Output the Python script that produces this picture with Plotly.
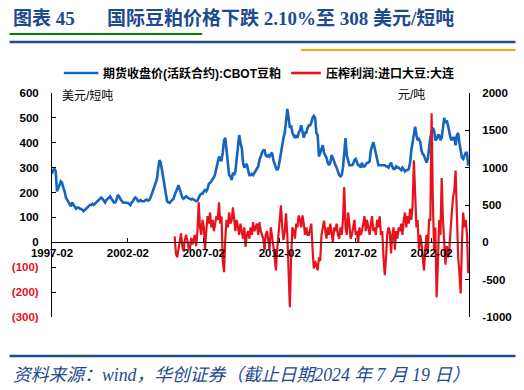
import pandas as pd
import plotly.graph_objects as go

# CBOT soybean meal, active contract close (USD/short ton), monthly 1997-02 .. 2024-07
blue_1997 = [275, 290, 295, 285, 205, 215, 230, 245, 240, 220, 205]
blue_years = [
    [180, 170, 165, 150, 145, 160, 150, 140, 135, 140, 140, 135],  # 1998
    [135, 130, 125, 130, 135, 140, 145, 150, 150, 155, 150, 155],  # 1999
    [160, 165, 170, 175, 180, 175, 165, 160, 170, 175, 180, 185],  # 2000
    [175, 165, 160, 160, 170, 190, 185, 175, 165, 160, 160, 160],  # 2001
    [160, 158, 155, 150, 160, 165, 175, 180, 175, 165, 165, 170],  # 2002
    [165, 165, 165, 170, 172, 168, 170, 180, 195, 210, 230, 240],  # 2003
    [255, 300, 330, 320, 290, 250, 215, 180, 165, 160, 158, 165],  # 2004
    [170, 175, 190, 200, 215, 230, 215, 195, 180, 175, 180, 185],  # 2005
    [180, 178, 175, 172, 175, 172, 170, 165, 168, 180, 190, 195],  # 2006
    [195, 205, 210, 205, 215, 235, 240, 245, 255, 260, 275, 300],  # 2007
    [320, 345, 330, 330, 360, 410, 420, 360, 320, 270, 265, 250],  # 2008
    [280, 270, 285, 330, 390, 431, 400, 380, 320, 300, 310, 315],  # 2009
    [290, 270, 270, 275, 270, 280, 290, 300, 305, 330, 350, 360],  # 2010
    [370, 370, 350, 345, 350, 345, 355, 360, 330, 310, 300, 290],  # 2011
    [300, 330, 360, 400, 420, 440, 500, 536, 500, 460, 470, 440],  # 2012
    [430, 420, 430, 420, 440, 450, 470, 450, 420, 440, 440, 460],  # 2013
    [470, 470, 480, 500, 508, 500, 440, 430, 345, 360, 380, 390],  # 2014
    [360, 350, 340, 320, 310, 320, 350, 340, 320, 310, 300, 285],  # 2015
    [270, 265, 270, 300, 360, 419, 350, 330, 310, 310, 310, 315],  # 2016
    [330, 335, 320, 310, 310, 300, 320, 305, 305, 315, 320, 320],  # 2017
    [325, 370, 385, 403, 380, 350, 335, 310, 310, 310, 310, 310],  # 2018
    [310, 305, 305, 300, 310, 320, 305, 295, 295, 305, 300, 300],  # 2019
    [295, 290, 300, 290, 285, 290, 290, 295, 320, 370, 400, 430],  # 2020
    [465, 430, 410, 415, 405, 370, 355, 350, 335, 320, 335, 380],  # 2021
    [420, 445, 460, 450, 410, 415, 430, 430, 410, 420, 460, 500],  # 2022
    [480, 490, 470, 440, 420, 410, 420, 420, 390, 430, 440, 400],  # 2023
]
blue_2024 = [370, 340, 335, 345, 360, 360, 308]

# Crush margin, imported soybean, Dalian (CNY/ton), monthly 2005-03 .. 2024-07
red_2005 = [80, -150, -200, -100, 50, 120, -50, -120, 30, 100]
red_years = [
    [20, -80, -100, 60, -30, 30, 100, -50, 150, 535, 200, 100],       # 2006
    [300, 200, -100, 150, 350, 250, 400, 200, 300, 150, 250, 350],    # 2007
    [300, 535, 250, 350, -240, -400, 50, 300, 200, 400, 250, 300],    # 2008
    [470, 250, 150, 300, 200, 100, 250, 150, 50, 200, -60, 100],      # 2009
    [150, 50, 200, 100, 270, 150, 200, 250, 100, 270, 150, 80],       # 2010
    [50, -100, 100, 150, 0, -100, 200, 100, -50, -200, -375, -100],   # 2011
    [100, 250, 495, 200, 30, 150, 390, 100, -300, -870, -200, 200],   # 2012
    [150, 50, 250, 200, 360, 300, 200, 360, 250, 100, 200, 100],      # 2013
    [100, 200, 250, -100, -350, -250, -300, -375, -200, -250, 100, 200],  # 2014
    [290, 150, 50, 200, 100, 250, 150, 0, 200, 150, 250, 100],        # 2015
    [50, 200, 100, 300, 740, 200, 100, 400, 250, 50, 100, 200],       # 2016
    [300, 100, 150, 0, 200, 100, 150, 250, 350, 150, 300, 200],       # 2017
    [100, 250, 350, 150, 200, 100, 300, 200, 350, 100, 150, -200],    # 2018
    [-440, -200, 100, 200, 150, -150, 100, 200, -100, 150, 50, 200],  # 2019
    [150, 250, 100, 300, 400, 200, 350, 250, 450, 300, 500, 1100],    # 2020
    [700, 200, 300, -100, 100, 0, -200, -375, -100, 100, -150, 300],  # 2021
    [300, 1730, 600, -100, 200, -735, -300, 300, 100, 860, 300, -100],  # 2022
    [-300, -50, -200, -100, 200, 400, 600, 700, 960, 300, -200, -400],  # 2023
]
red_2024 = [-685, 0, 400, 200, 300, 100, -415]

blue = blue_1997 + [v for yr in blue_years for v in yr] + blue_2024
red = red_2005 + [v for yr in red_years for v in yr] + red_2024
blue_dates = pd.date_range("1997-02-01", periods=len(blue), freq="MS")
red_dates = pd.date_range("2005-03-01", periods=len(red), freq="MS")

left_ticks = [600, 500, 400, 300, 200, 100, 0, -100, -200, -300]
right_ticks = [2000, 1500, 1000, 500, 0, -500, -1000]
x_ticks = ["1997-02", "2002-02", "2007-02", "2012-02", "2017-02", "2022-02"]

blue_name = "期货收盘价(活跃合约):CBOT豆粕"
red_name = "压榨利润:进口大豆:大连"

W, H = 524, 390
ML, MR, MT, MB = 48, 54, 93, 73
PW, PH = W - ML - MR, H - MT - MB

NAVY = "#1d4b8f"
BLUE = "#1565c0"
RED = "#e8121c"
SANS = "Liberation Sans, Arial, Noto Sans CJK SC, sans-serif"
SERIF = "Liberation Serif, Times New Roman, Noto Sans CJK SC, serif"


def px_x(x):
    return (x - ML) / PW


def px_y(y):
    return (H - y - MB) / PH


def left_label(v):
    if v < 0:
        return "<span style='color:%s'>(%d)</span>" % (RED, -v)
    return str(v)


fig = go.Figure()
fig.add_trace(go.Scatter(x=blue_dates, y=blue, mode="lines", name=blue_name,
                         line=dict(color=BLUE, width=2.6), yaxis="y"))
fig.add_trace(go.Scatter(x=red_dates, y=red, mode="lines", name=red_name,
                         line=dict(color=RED, width=2.2), yaxis="y2"))

tickfont = dict(family=SANS, size=11.5, color="black", weight="bold")
fig.update_layout(
    width=W, height=H,
    margin=dict(l=ML, r=MR, t=MT, b=MB),
    paper_bgcolor="white", plot_bgcolor="white",
    showlegend=False,
    xaxis=dict(type="date", range=["1997-02-01", "2024-07-19"],
               anchor="free", position=1/3,
               showline=True, linecolor="black", linewidth=1,
               ticks="inside", ticklen=4, tickcolor="black",
               tickvals=[pd.Timestamp(t + "-01") for t in x_ticks], ticktext=x_ticks,
               tickfont=tickfont, showgrid=False, zeroline=False),
    yaxis=dict(range=[-300, 600], tickvals=left_ticks,
               ticktext=[left_label(v) for v in left_ticks],
               showline=True, linecolor="black", linewidth=1,
               ticks="inside", ticklen=4, tickcolor="black",
               ticklabelstandoff=10, tickfont=tickfont,
               showgrid=False, zeroline=False),
    yaxis2=dict(range=[-1000, 2000], tickvals=right_ticks,
                ticktext=[str(v) for v in right_ticks],
                overlaying="y", side="right",
                showline=True, linecolor="black", linewidth=1,
                ticks="inside", ticklen=4, tickcolor="black",
                ticklabelstandoff=10, tickfont=tickfont,
                showgrid=False, zeroline=False),
)


def note(text, x, y, font, xanchor="left"):
    fig.add_annotation(text=text, x=px_x(x), y=px_y(y), xref="paper", yref="paper",
                       xanchor=xanchor, yanchor="middle", showarrow=False, font=font)


def hline(x0, x1, y, color, width):
    fig.add_shape(type="line", xref="paper", yref="paper", layer="above",
                  x0=px_x(x0), x1=px_x(x1), y0=px_y(y), y1=px_y(y),
                  line=dict(color=color, width=width))


# title and rule lines
title_font = dict(family=SERIF, size=19, color=NAVY)
note("<b>图表 45</b>", 7, 18, title_font)
note("<b>国际豆粕价格下跌 2.10%至 308 美元/短吨</b>", 102, 18, title_font)
hline(5, 517, 42, NAVY, 2.4)
hline(5, 517, 356, NAVY, 2.4)
# diagnostic probes
hline(5, 200, 34, "green", 2)
hline(300, 517, 50, "orange", 2)

# legend (line samples + labels)
legend_font = dict(family=SANS, size=12, color="black", weight="bold")
hline(60, 95, 73, BLUE, 2.6)
note(blue_name, 98, 73, legend_font)
hline(290, 320, 73, RED, 2.6)
note(red_name, 323, 73, legend_font)

# unit labels and source
note("美元/短吨", 56, 96, dict(family=SANS, size=12, color="black"))
note("元/吨", 428, 95, dict(family=SANS, size=12, color="black"), xanchor="right")
note("<i>资料来源：wind，华创证券（截止日期2024 年 7 月 19 日）</i>", 7, 375,
     dict(family=SERIF, size=17.8, color=NAVY))

fig.write_html("out.html", config={"displayModeBar": False},
               post_script="document.body.style.margin='0';")
